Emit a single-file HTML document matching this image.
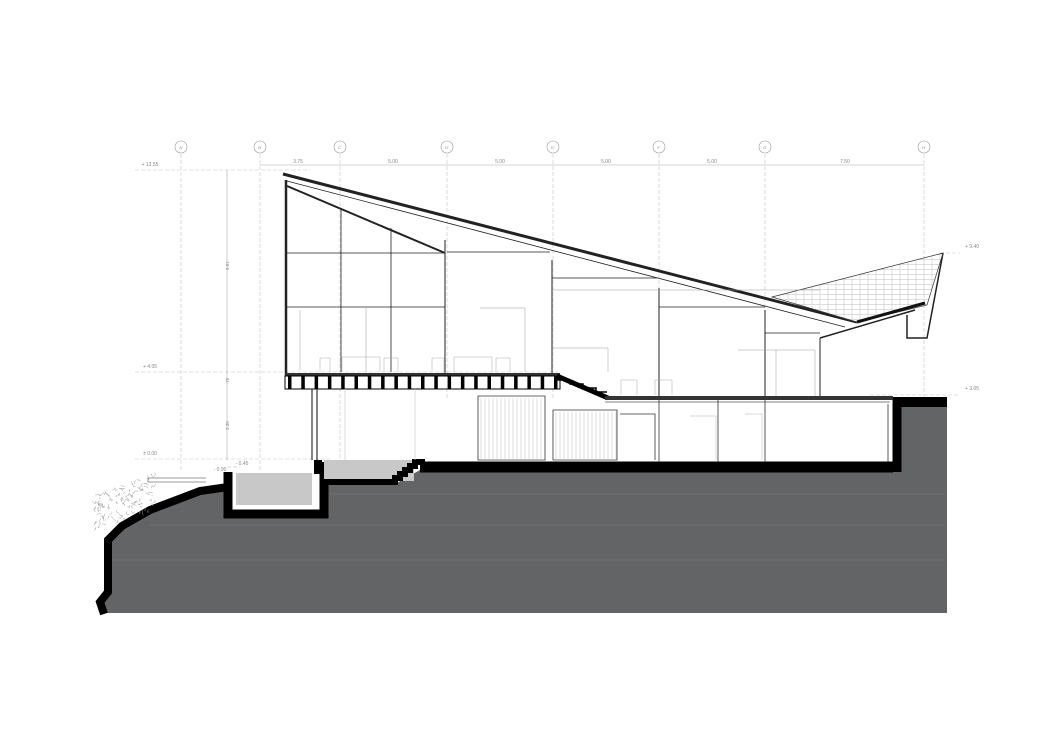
<!DOCTYPE html>
<html><head><meta charset="utf-8"><style>
html,body{margin:0;padding:0;background:#fff;}
svg{display:block;font-family:"Liberation Sans",sans-serif;}
</style></head><body>
<svg id="s" width="1053" height="744" viewBox="0 0 1053 744" xmlns="http://www.w3.org/2000/svg">
<defs>
<pattern id="tile" width="8" height="5" patternUnits="userSpaceOnUse">
<rect width="8" height="5" fill="#fff"/>
<path d="M0 4.5H8M4 0V4.5" stroke="#bbb" stroke-width="0.5"/>
</pattern>
</defs>
<g stroke="#c4c4c4" stroke-width="0.6" stroke-dasharray="4 2" fill="none">
<path d="M181 154V470M260 154V470M340 154V460M447 154V400M553 154V400M659 154V400M765 154V400M924 154V400"/>
<path d="M135 170H310M135 372H560M135 459H330M940 253H960M870 395H960M227 467H240"/>
</g>
<g stroke="#999" stroke-width="0.6" fill="#fff">
<circle cx="181" cy="147" r="6"/><circle cx="260" cy="147" r="6"/><circle cx="340" cy="147" r="6"/><circle cx="447" cy="147" r="6"/><circle cx="553" cy="147" r="6"/><circle cx="659" cy="147" r="6"/><circle cx="765" cy="147" r="6"/><circle cx="924" cy="147" r="6"/>
</g>
<g font-size="4" fill="#888" text-anchor="middle">
<text x="181" y="149">A'</text><text x="260" y="149">B'</text><text x="340" y="149">C'</text><text x="447" y="149">D'</text><text x="553" y="149">E'</text><text x="659" y="149">F'</text><text x="765" y="149">G'</text><text x="924" y="149">H'</text>
</g>
<path d="M260 165H924" stroke="#aaa" stroke-width="0.6"/>
<g font-size="5" fill="#888" text-anchor="middle">
<text x="298" y="163">3.75</text><text x="393" y="163">5.00</text><text x="500" y="163">5.00</text><text x="606" y="163">5.00</text><text x="712" y="163">5.00</text><text x="845" y="163">7.50</text>
<text x="150" y="166">+ 13.55</text><text x="150" y="368">+ 4.05</text><text x="150" y="455">± 0.00</text><text x="972" y="248">+ 9.40</text><text x="972" y="390">+ 3.05</text>
<text x="242" y="465">- 0.45</text><text x="220" y="471">- 0.90</text>
</g>
<path d="M227 170V460" stroke="#aaa" stroke-width="0.6"/>
<g font-size="4.5" fill="#888"><text transform="translate(229,270) rotate(-90)">9.51</text><text transform="translate(229,384) rotate(-90)">.75</text><text transform="translate(229,430) rotate(-90)">3.30</text></g>

<path d="M100 610L104 598L108 590L108 540L122 525L150 510L200 490L230 486L230 514L325 514L325 484L395 484L420 470L430 462L893 462L893 398L947 398L947 613L100 613Z" fill="#636466"/>
<path d="M108 560H945M150 525H945M330 494H945" stroke="#757678" stroke-width="0.7" fill="none"/>
<path d="M104 614L100 602L108 592L108 540L122 526L150 510L200 491L228 487" stroke="#000" stroke-width="8" fill="none"/>
<path d="M228 472V514H324V462" stroke="#000" stroke-width="9" fill="none"/>
<rect x="236" y="473" width="76" height="32" fill="#c8c8c8"/>
<rect x="324" y="460" width="90" height="21" fill="#c8c8c8"/>
<path d="M320 482H395V478H400V474H405V470H410V466H415V462H425" stroke="#000" stroke-width="6" fill="none"/>
<path d="M420 467H893" stroke="#000" stroke-width="11"/>
<path d="M897 400V472" stroke="#000" stroke-width="9"/>
<rect x="893" y="397" width="54" height="10" fill="#000"/>
<rect x="314" y="460" width="8" height="14" fill="#000"/>
<path d="M206 482H148V478H206" stroke="#777" stroke-width="0.8" fill="#fff"/>
<g stroke="#999" stroke-width="0.5" fill="none" id="pl"></g>

<g stroke="#222" fill="none">
<path d="M283 174L857 322" stroke-width="3"/>
<path d="M287 181L845 327" stroke-width="0.8"/>
<path d="M287 186L445 253" stroke-width="2"/>
<path d="M286 180V376" stroke-width="2.5"/>
<path d="M445 240V375M552 260V375M659 288V398M765 310V398" stroke-width="1.3" stroke="#555"/>
<path d="M341 210V372M391 228V372" stroke-width="0.8"/>
<path d="M287 253H445M287 307H445M447 252H550M552 278H657M659 307H765M765 333H820" stroke-width="0.8"/>
<path d="M820 338V398" stroke-width="1"/>
<path d="M820 338L915 310" stroke-width="1.5"/>
<path d="M943 253L927 338H907V315" stroke-width="1.5"/>
</g>
<path d="M772 297L943 253L927 305L857 322Z" fill="url(#tile)" stroke="#333" stroke-width="0.7"/>
<path d="M857 322L925 303" stroke="#111" stroke-width="3"/>
<g stroke="#999" stroke-width="0.5" fill="none">
<path d="M480 308H525V372M552 348H608V372M738 350H815V398M776 350V398M552 290H820"/>
<path d="M300 310V370M366 308V372"/>
</g>
<g stroke="#aaa" stroke-width="0.5" fill="none">
<path d="M320 372V358H330V372M342 372V357H380V372M384 372V358H398V372M432 372V358H444V372M454 372V357H492V372M496 372V358H510V372M621 395V380H637V395M655 395V380H672V395"/>
</g>
<rect x="285" y="373" width="275" height="3" fill="#333"/>
<rect x="285" y="376" width="275" height="13" fill="#fff" stroke="#000" stroke-width="1"/>
<g id="j" fill="#000"></g>
<path d="M557 376L608 398" stroke="#000" stroke-width="5"/>
<path d="M557 380H570V384H583V388H596V392H607" stroke="#000" stroke-width="1.5" fill="none"/>
<rect x="605" y="396" width="288" height="4" fill="#333"/>
<path d="M605 402H890" stroke="#aaa" stroke-width="1.5"/>
<g stroke="#333" fill="none" stroke-width="0.8">
<path d="M312 389V460M317 389V460" stroke-width="1.2"/>
<path d="M478 396H545V460H478Z M553 410H617V460H553Z"/>
<path d="M659 400V462M718 400V462M765 400V462M620 414H655V460M888 404V462"/>
</g>
<g stroke="#bbb" stroke-width="0.5" id="wd"></g>
<g stroke="#ccc" stroke-width="0.7" fill="none"><path d="M690 416H716V460M745 414H762V460M415 389V460M345 389V460"/></g>
</svg>
<script>
var ns="http://www.w3.org/2000/svg",j=document.getElementById('j');
for(var x=288;x<556;x+=13.3){var r=document.createElementNS(ns,'rect');r.setAttribute('x',x);r.setAttribute('y',376);r.setAttribute('width',3.5);r.setAttribute('height',13);j.appendChild(r);}
var w=document.getElementById('wd'),d='';
for(var x=481;x<545;x+=4)d+='M'+x+' 398V460';
for(var x=556;x<617;x+=4)d+='M'+x+' 412V460';
var p=document.createElementNS(ns,'path');p.setAttribute('d',d);w.appendChild(p);
var pl=document.getElementById('pl'),dd='';
var s=7;function rnd(){s=(s*9301+49297)%233280;return s/233280;}
for(var i=0;i<110;i++){var x=95+rnd()*60,y=495+rnd()*35-(x-95)*0.35;dd+='M'+x.toFixed(1)+' '+y.toFixed(1)+'l'+(rnd()*6-3).toFixed(1)+' '+(rnd()*6-3).toFixed(1)+'l'+(rnd()*6-3).toFixed(1)+' '+(rnd()*6-3).toFixed(1);}
var q=document.createElementNS(ns,'path');q.setAttribute('d',dd);pl.appendChild(q);
</script>
</body></html>
